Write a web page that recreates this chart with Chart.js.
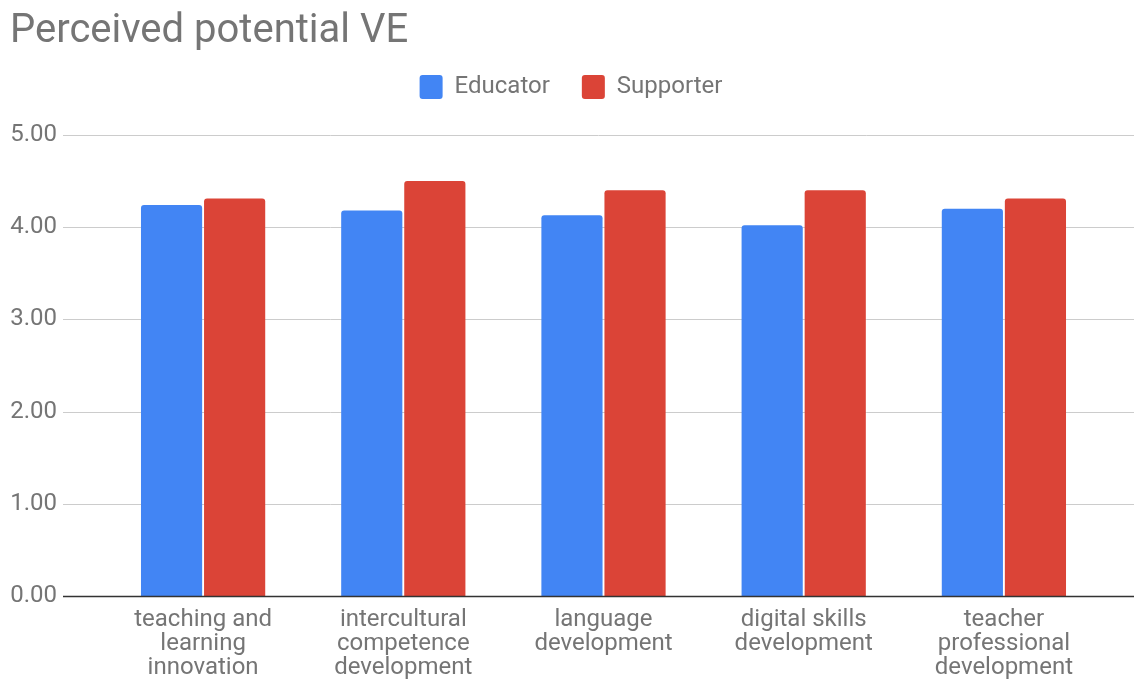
<!DOCTYPE html>
<html><head><meta charset="utf-8">
<script src="https://cdn.jsdelivr.net/npm/chart.js@4.4.0/dist/chart.umd.min.js"></script>
<style>html,body{margin:0;padding:0;background:#fff}</style>
</head><body>
<canvas id="c" width="1134" height="680"></canvas>
<script>
const titleText = "Perceived potential VE";
const categories = [
  ["teaching and", "learning", "innovation"],
  ["intercultural", "competence", "development"],
  ["language", "development"],
  ["digital skills", "development"],
  ["teacher", "professional", "development"]
];
const seriesNames = ["Educator", "Supporter"];
const educator = [4.24, 4.18, 4.13, 4.02, 4.20];
const supporter = [4.31, 4.50, 4.40, 4.40, 4.31];
const yMin = 0, yMax = 5, yStep = 1;

const TEXT = '#757575';
const FONT = 'Roboto';

const fullGrid = {
  id: 'fullGrid',
  beforeDatasetsDraw(chart) {
    const y = chart.scales.y, ctx = chart.ctx;
    ctx.save();
    y.ticks.forEach(t => {
      if (t.value === 0) return;
      const py = Math.round(y.getPixelForValue(t.value)) + 0.5;
      ctx.strokeStyle = '#cccccc'; ctx.lineWidth = 1;
      ctx.beginPath(); ctx.moveTo(63, py); ctx.lineTo(1134, py); ctx.stroke();
    });
    ctx.restore();
  },
  afterDatasetsDraw(chart) {
    const y = chart.scales.y, ctx = chart.ctx;
    const py = Math.round(y.getPixelForValue(0)) + 0.5;
    ctx.save();
    ctx.strokeStyle = '#333333'; ctx.lineWidth = 1.5;
    ctx.beginPath(); ctx.moveTo(63, py); ctx.lineTo(1134, py); ctx.stroke();
    ctx.restore();
  },
  afterLayout(chart) {
    if (chart.legend) {
      chart.legend.left += 14; chart.legend.right += 14;
      chart.legend.top -= 26; chart.legend.bottom -= 26;
    }
  }
};

new Chart(document.getElementById('c'), {
  type: 'bar',
  data: {
    labels: categories,
    datasets: [
      { label: seriesNames[0], data: educator, backgroundColor: '#4285F4', borderRadius: 3, borderSkipped: 'start' },
      { label: seriesNames[1], data: supporter, backgroundColor: '#DB4437', borderRadius: 3, borderSkipped: 'start' }
    ]
  },
  options: {
    responsive: false,
    animation: false,
    devicePixelRatio: 1,
    layout: { padding: { left: 10, right: 30, top: 0, bottom: 0 } },
    datasets: { bar: { categoryPercentage: 0.63, barPercentage: 0.97 } },
    plugins: {
      title: {
        display: true, text: titleText, align: 'start', color: TEXT,
        font: { family: FONT, size: 40, weight: 'normal' },
        padding: { top: 8, bottom: 13 }
      },
      legend: {
        display: true, position: 'top', align: 'center',
        labels: {
          color: TEXT, font: { family: FONT, size: 24 },
          boxWidth: 23, boxHeight: 24, padding: 32, useBorderRadius: true, borderRadius: 3
        }
      },
      tooltip: { enabled: false }
    },
    scales: {
      x: {
        grid: { display: false }, border: { display: false },
        ticks: { color: TEXT, font: { family: FONT, size: 24, lineHeight: 1.0 }, maxRotation: 0, autoSkip: false, padding: 4 },
        afterFit(s) { s.height = 84; }
      },
      y: {
        min: yMin, max: yMax,
        grid: { display: false, drawTicks: false }, border: { display: false },
        ticks: { stepSize: yStep, color: TEXT, font: { family: FONT, size: 24 }, padding: 46, callback: v => Number(v).toFixed(2) },
        afterFit(s) { s.width = 93; }
      }
    }
  },
  plugins: [fullGrid]
});
</script>
</body></html>
